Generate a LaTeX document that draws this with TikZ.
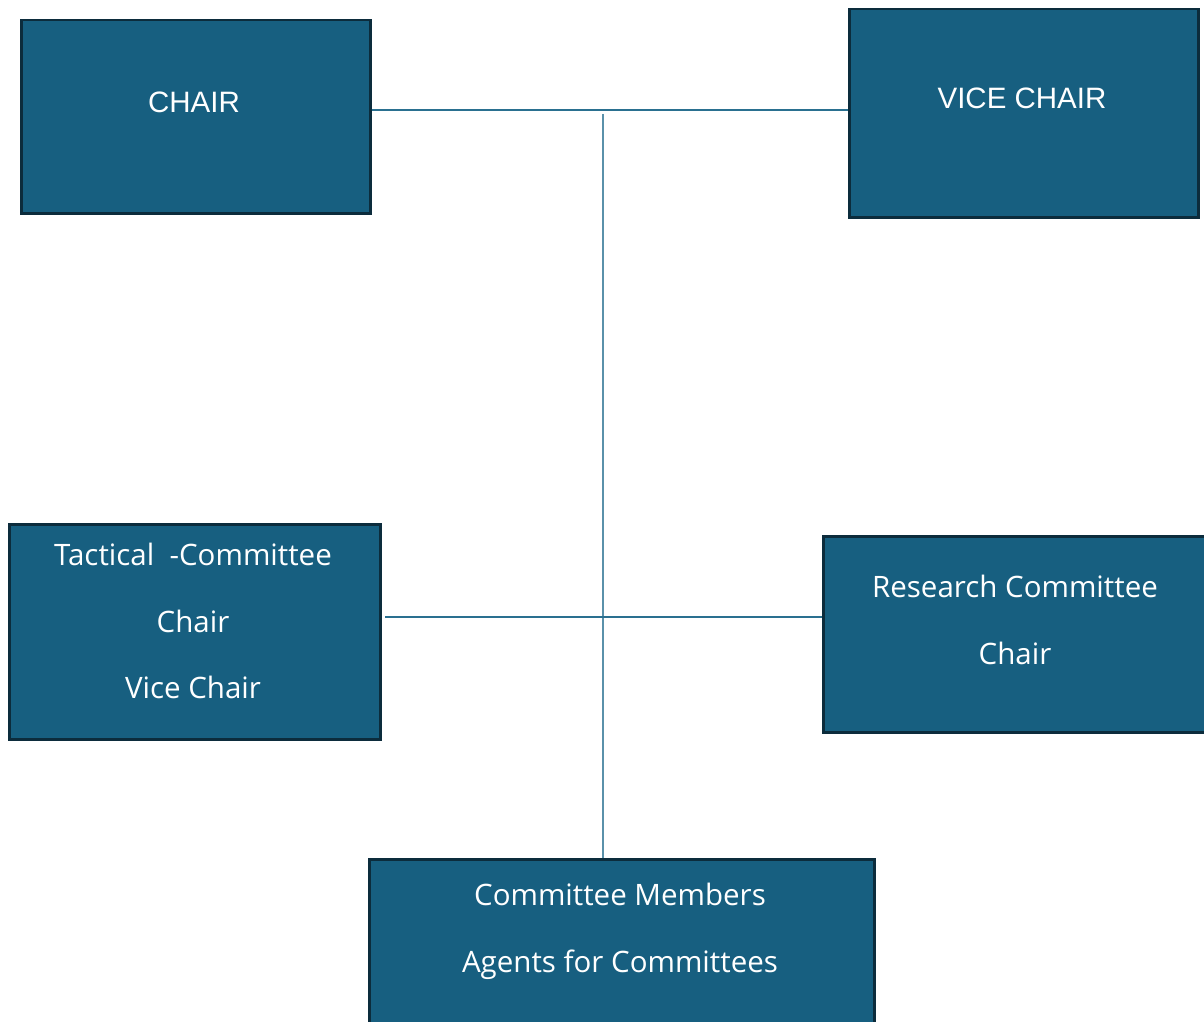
\documentclass[tikz,border=0pt]{standalone}
\usepackage{fontspec}
\setmainfont{Open Sans}
\newfontfamily\capsfont{Liberation Sans}
\definecolor{boxfill}{HTML}{175F80}
\definecolor{boxedge}{HTML}{0C2C3C}
\definecolor{linkcol}{HTML}{2A7090}
\definecolor{vlinkcol}{HTML}{5A91AA}
\tikzset{
  orgbox/.style={draw=boxedge, line width=2.5pt, fill=boxfill, inner sep=0pt, anchor=north west},
  capstext/.style={text=white, font=\capsfont\fontsize{29.5}{34}\selectfont, anchor=base, inner sep=0pt},
  boxtext/.style={text=white, font=\fontsize{29.5}{34}\selectfont, anchor=base, inner sep=0pt},
  link/.style={draw=linkcol, line width=1.2pt},
  vlink/.style={draw=vlinkcol, line width=1.2pt}
}
\begin{document}
\begin{tikzpicture}[x=1pt,y=-1pt]
\useasboundingbox (0,0) rectangle (1204,1022);
% boxes
\node[orgbox, minimum width=349pt, minimum height=193pt] (chair) at (20,19) {};
\node[orgbox, minimum width=349pt, minimum height=208pt] (vice) at (848,8) {};
\node[orgbox, minimum width=371pt, minimum height=215pt] (tact) at (8,523) {};
\node[orgbox, minimum width=400pt, minimum height=196pt] (res) at (822,535) {};
\node[orgbox, minimum width=505pt, minimum height=200pt] (memb) at (368,858) {};
% texts
\node[capstext] (chairT) at (194,113) {CHAIR};
\node[capstext] (viceT) at (1022,109) {VICE CHAIR};
\node[boxtext] (tactA) at (193,565) {Tactical\ \ -Committee};
\node[boxtext] (tactB) at (193,632) {Chair};
\node[boxtext] (tactC) at (193,698) {Vice Chair};
\node[boxtext] (resA) at (1015,597) {Research Committee};
\node[boxtext] (resB) at (1015,664) {Chair};
\node[boxtext] (membA) at (620,905) {Committee Members};
\node[boxtext] (membB) at (620,972) {Agents for Committees};
% connectors
\coordinate (top) at (603,114);
\coordinate (tactR) at (385,617);
\draw[link] (chair.east |- 0,110) -- (vice.west |- 0,110);
\draw[vlink] (top) -- (memb.north -| top);
\draw[link] (tactR) -- (res.west |- tactR);
\end{tikzpicture}
\end{document}
